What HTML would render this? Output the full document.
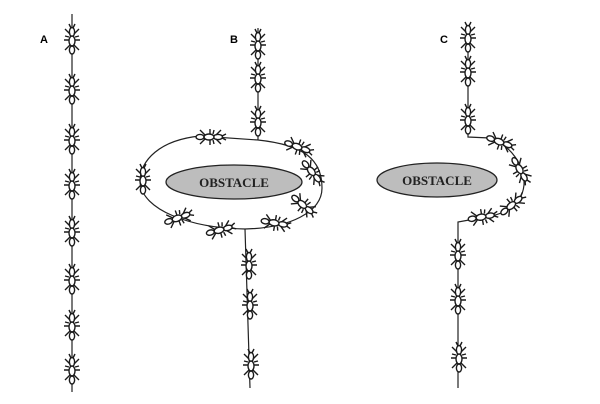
<!DOCTYPE html>
<html><head><meta charset="utf-8"><style>
html,body{margin:0;padding:0;background:#fff;width:600px;height:404px;overflow:hidden}
svg{display:block}
.lbl{font-family:"Liberation Sans",sans-serif;font-weight:bold;font-size:11px;fill:#000}
.obs{font-family:"Liberation Serif",serif;font-weight:bold;font-size:13px;fill:#222}
</style></head><body>
<svg width="600" height="404" viewBox="0 0 600 404">
<defs>
<g id="ant" stroke="#1a1a1a" fill="none" stroke-width="1.4">
<ellipse cx="0" cy="-8" rx="2.6" ry="4.5" fill="#fff"/>
<ellipse cx="0" cy="1" rx="3" ry="5" fill="#fff"/>
<ellipse cx="0" cy="10" rx="2.6" ry="4" fill="#fff"/>
<path d="M-2,-6 L-7,-11 M2,-6 L7,-11 M-3,0 L-8,0 M3,0 L8,0 M-2,5 L-7,10 M2,5 L7,10 M-1,-12 L-3,-16 M1,-12 L3,-16 M-3,-3 L-7,-4 M3,-3 L7,-4"/>
</g>
</defs>
<text class="lbl" x="40" y="43">A</text>
<text class="lbl" x="230" y="43">B</text>
<text class="lbl" x="440" y="43">C</text>

<g stroke="#222" fill="none" stroke-width="1.2">
<path d="M72,14 L72,392"/>
</g>
<g stroke="#222" fill="none" stroke-width="1.2">
<path d="M258,28 L258,140 L200,136 C160,140 140,160 140,182 C142,210 190,228 245,229 C290,228 322,212 322,188 C322,160 305,145 258,140"/>
<path d="M245,229 L250,388"/>
</g>
<g stroke="#222" fill="none" stroke-width="1.2">
<path d="M468,25 L468,137 L490,138 C510,145 525,165 524,185 C522,205 505,215 480,218 L458,222 L458,388"/>
</g>

<g>
<ellipse cx="234" cy="182" rx="68" ry="17" fill="#bdbdbd" stroke="#222" stroke-width="1.3"/>
<text class="obs" x="234" y="187" text-anchor="middle">OBSTACLE</text>
</g>
<g>
<ellipse cx="437" cy="180" rx="60" ry="17" fill="#bdbdbd" stroke="#222" stroke-width="1.3"/>
<text class="obs" x="437" y="185" text-anchor="middle">OBSTACLE</text>
</g>

<g>
<use href="#ant" x="72" y="40"/><use href="#ant" x="72" y="90"/><use href="#ant" x="72" y="140"/><use href="#ant" x="72" y="185"/><use href="#ant" x="72" y="232"/><use href="#ant" x="72" y="280"/><use href="#ant" x="72" y="326"/><use href="#ant" x="72" y="370"/>
</g>
<g>
<use href="#ant" x="258" y="45"/><use href="#ant" x="258" y="78"/><use href="#ant" x="258" y="122"/>
<use href="#ant" transform="translate(210,137) rotate(90)"/>
<use href="#ant" transform="translate(298,147) rotate(110)"/>
<use href="#ant" transform="translate(312,172) rotate(140)"/>
<use href="#ant" x="143" y="180"/>
<use href="#ant" transform="translate(178,218) rotate(70)"/>
<use href="#ant" transform="translate(220,230) rotate(75)"/>
<use href="#ant" transform="translate(275,223) rotate(100)"/>
<use href="#ant" transform="translate(303,205) rotate(130)"/>
<use href="#ant" x="249" y="265"/><use href="#ant" x="250" y="305"/><use href="#ant" x="251" y="365"/>
</g>
<g>
<use href="#ant" x="468" y="38"/><use href="#ant" x="468" y="72"/><use href="#ant" x="468" y="120"/>
<use href="#ant" transform="translate(500,142) rotate(110)"/>
<use href="#ant" transform="translate(520,170) rotate(150)"/>
<use href="#ant" transform="translate(512,205) rotate(50)"/>
<use href="#ant" transform="translate(482,217) rotate(80)"/>
<use href="#ant" x="458" y="255"/><use href="#ant" x="458" y="300"/><use href="#ant" x="459" y="358"/>
</g>
</svg>
</body></html>
